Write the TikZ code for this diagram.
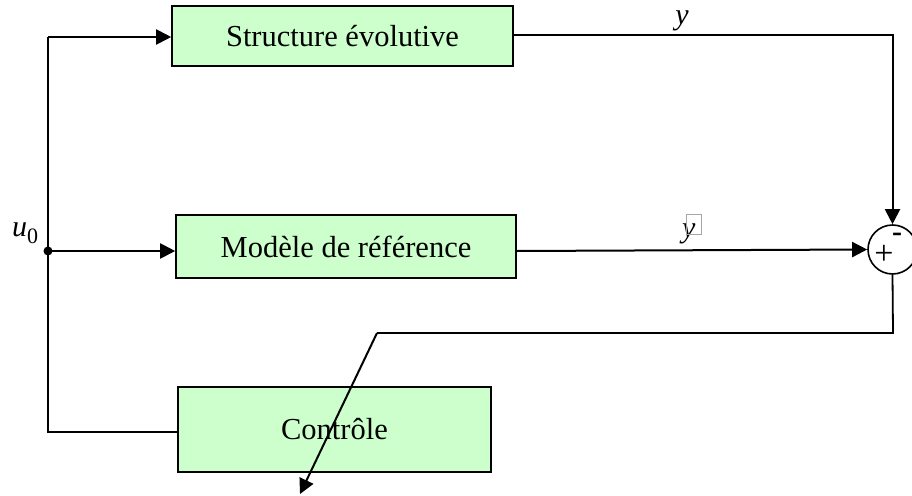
\documentclass[tikz,border=0pt]{standalone}
\usepackage{fontspec}
\setmainfont{Liberation Serif}
\usetikzlibrary{arrows.meta}

\definecolor{boxgreen}{HTML}{CCFFCC}
\tikzstyle{bloc} = [draw, line width=1.6pt, fill=boxgreen, inner sep=0pt, font=\fontsize{30.5}{36}\selectfont]
\tikzstyle{somme} = [draw, circle, line width=1.6pt, minimum size=49pt, inner sep=0pt]
\tikzstyle{fleche} = [line width=2pt, -{Triangle[length=15pt,width=15pt]}]
\tikzstyle{lbl} = [inner sep=0pt, font=\fontsize{30}{36}\selectfont]

\begin{document}
\begin{tikzpicture}[x=1pt,y=-1pt]
			\useasboundingbox (0,0) rectangle (912,495);
			\node[bloc, minimum width=341pt, minimum height=60pt] (evol) at (342.5,36) {Structure évolutive};
			\node[bloc, minimum width=340pt, minimum height=63pt] (ref) at (346,246.5) {Modèle de référence};
			\node[bloc, minimum width=313pt, minimum height=85pt] (ctrl) at (334.5,429.5) {Contrôle};
			\node[somme] (sum) at (892.5,249.5) {};
			\node[lbl] (plus) at (884,255) {\fontsize{34}{34}\selectfont +};
			\node[lbl] (moins) at (897,237) {\bfseries -};
			\node[lbl, anchor=base] (yout) at (682,25) {\textit{y}};
			\node[lbl, anchor=base west] (yhat) at (682,237) {\textit{y}\kern-10pt\raisebox{3pt}{\color{black!35}\setlength{\fboxsep}{0pt}\setlength{\fboxrule}{0.8pt}\fbox{\rule{0pt}{19pt}\hspace{15pt}}}};
			\node[lbl, anchor=base west] (u0) at (12,236) {\textit{u}\raisebox{-7pt}{\fontsize{22}{22}\selectfont 0}};
			\coordinate (haut) at (48,37);
			\coordinate (noeud) at (48,251);
			\coordinate (bas) at (48,432);
			\coordinate (retour) at (893,333);
			\coordinate (coin) at (377,333);
			\coordinate (pointe) at (300,494);
			% entree
			\draw[line width=1.6pt] (bas -| ctrl.west) -- (bas) -- (haut);
			\draw[fleche] (haut) -- (haut -| evol.west);
			\draw[fleche] (noeud) -- (noeud -| ref.west);
			\fill (noeud) circle (4.5);
			% sorties
			\draw[fleche] (evol.east |- 0,35) -- (sum.north |- 0,35) -- (sum.north);
			\draw[fleche] (noeud -| ref.east) -- (sum.west);
			% erreur
			\draw[line width=1.8pt] (sum.south) -- (retour) -- (coin);
			\draw[fleche] (coin) -- (pointe);
		\end{tikzpicture}
\end{document}
